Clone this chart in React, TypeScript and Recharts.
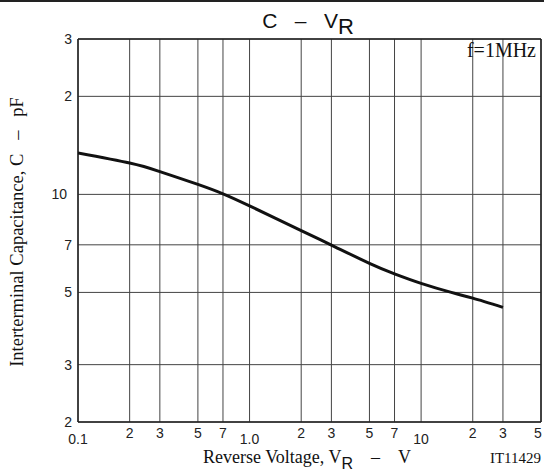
import React from 'react';
import { LineChart, Line, XAxis, YAxis, CartesianGrid, ReferenceLine } from 'recharts';

// C - VR curve
const voltage = [0.1, 0.2, 0.3, 0.5, 0.7, 1, 2, 3, 5, 7, 10, 15, 20, 30];
const capacitance = [13.4, 12.48, 11.75, 10.73, 10.04, 9.22, 7.74, 6.99, 6.14, 5.7, 5.33, 5.0, 4.8, 4.5];

const xTicks = [0.1, 0.2, 0.3, 0.5, 0.7, 1, 2, 3, 5, 7, 10, 20, 30, 50];
const xTickLabels = ['0.1', '2', '3', '5', '7', '1.0', '2', '3', '5', '7', '10', '2', '3', '5'];
const xDecades = [0.1, 1, 10];

const yTicks = [2, 3, 5, 7, 10, 20, 30];
const yTickLabels = ['2', '3', '5', '7', '10', '2', '3'];

const data = voltage.map((v, i) => ({ v, c: capacitance[i] }));

const SANS = 'Arial, "Liberation Sans", Helvetica, sans-serif';
const SERIF = '"Times New Roman", "Liberation Serif", Times, serif';
const SP = '\u00a0\u00a0\u00a0';
const SP4 = '\u00a0\u00a0\u00a0\u00a0';

function XTick(props: any) {
  const { x, y, payload } = props;
  const i = xTicks.indexOf(payload.value);
  const decade = xDecades.includes(payload.value);
  const last = i === xTicks.length - 1;
  return (
    <text
      x={x + (last ? -3 : 0)}
      y={y + (decade ? 14 : 8)}
      textAnchor="middle"
      fontFamily={SANS}
      fontSize={14}
      fill="#222"
    >
      {xTickLabels[i]}
    </text>
  );
}

function YTick(props: any) {
  const { y, payload } = props;
  const i = yTicks.indexOf(payload.value);
  const wide = yTickLabels[i].length > 1;
  return (
    <text x={wide ? 67 : 72} y={y} dy={5} textAnchor="end" fontFamily={SANS} fontSize={14} fill="#222">
      {yTickLabels[i]}
    </text>
  );
}

function Texts() {
  return (
    <g>
      <text x={308} y={28} textAnchor="middle" fontFamily={SANS} fontSize={21} fill="#111">
        {`C${SP}–${SP}V`}
        <tspan dy={6} fontSize={22}>R</tspan>
      </text>
      <text x={536} y={57} textAnchor="end" fontFamily={SERIF} fontSize={20} fill="#111">
        f=1MHz
      </text>
      <text x={203} y={463} fontFamily={SERIF} fontSize={18} fill="#111">
        Reverse Voltage, V
        <tspan dy={6} fontFamily={SANS} fontSize={16}>R</tspan>
        <tspan dy={-6}>{`${SP4}–${SP4}V`}</tspan>
      </text>
      <text x={541} y={463} textAnchor="end" fontFamily={SERIF} fontSize={15} fill="#111">
        IT11429
      </text>
      <text
        x={0}
        y={0}
        transform="translate(23,232) rotate(-90)"
        textAnchor="middle"
        fontFamily={SERIF}
        fontSize={18.5}
        fill="#111"
      >
        {`Interterminal Capacitance, C${SP}–${SP}pF`}
      </text>
    </g>
  );
}

export default function App() {
  return (
    <div style={{ position: 'absolute', left: 0, top: 0, width: 544, height: 472, background: '#fff' }}>
      <div style={{ position: 'absolute', left: 0, top: 0, width: 544, height: 2, background: '#222' }} />
      <LineChart width={544} height={472} data={data} margin={{ top: 39, right: 3, left: 0, bottom: 0 }}>
        <CartesianGrid stroke="#444" strokeWidth={1} />
        <XAxis
          dataKey="v"
          type="number"
          scale="log"
          domain={[0.1, 50]}
          allowDataOverflow
          ticks={xTicks}
          interval={0}
          tick={<XTick />}
          tickLine={false}
          axisLine={false}
          height={50}
          label={{ content: () => <Texts /> }}
        />
        <YAxis
          type="number"
          scale="log"
          domain={[2, 30]}
          allowDataOverflow
          ticks={yTicks}
          interval={0}
          tick={<YTick />}
          tickLine={false}
          axisLine={false}
          width={78}
        />
        <ReferenceLine x={0.1} stroke="#222" strokeWidth={1.5} />
        <ReferenceLine x={50} stroke="#222" strokeWidth={1.5} />
        <ReferenceLine y={2} stroke="#222" strokeWidth={1.5} />
        <ReferenceLine y={30} stroke="#222" strokeWidth={1.5} />
        <Line
          type="natural"
          dataKey="c"
          stroke="#111"
          strokeWidth={3}
          dot={false}
          isAnimationActive={false}
        />
      </LineChart>
    </div>
  );
}
